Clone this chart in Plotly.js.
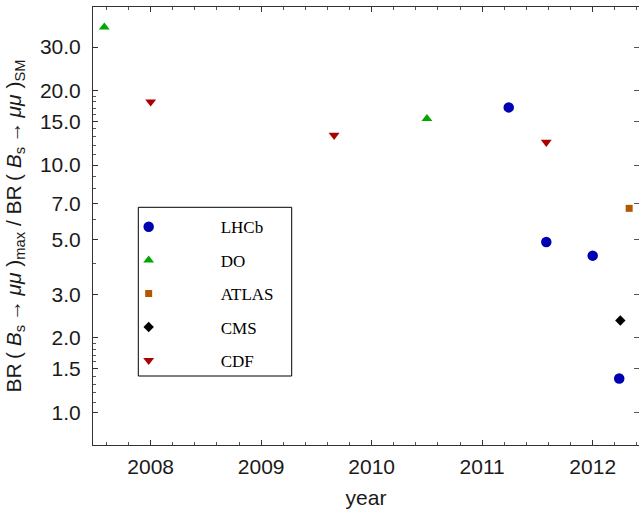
<!DOCTYPE html>
<html>
<head>
<meta charset="utf-8">
<script src="https://cdn.plot.ly/plotly-3.0.1.min.js"></script>
<style>html,body{margin:0;padding:0;background:#fff;}#chart{width:639px;height:509px;}</style>
</head>
<body>
<div id="chart"></div>
<script>
// Data
var lhcbYears = [2011.24, 2011.58, 2012.0, 2012.24];
var lhcbRatio = [17.1, 4.88, 4.30, 1.37];
var d0Years = [2007.58, 2010.5];
var d0Ratio = [36.1, 15.4];
var atlasYears = [2012.33];
var atlasRatio = [6.68];
var cmsYears = [2012.25];
var cmsRatio = [2.35];
var cdfYears = [2008.0, 2009.66, 2011.58];
var cdfRatio = [18.0, 13.2, 12.37];

var yearTicks = [2008, 2009, 2010, 2011, 2012];
var ratioTicks = [1, 1.5, 2, 3, 5, 7, 10, 15, 20, 30];
var ratioTickText = ['1.0', '1.5', '2.0', '3.0', '5.0', '7.0', '10.0', '15.0', '20.0', '30.0'];
var ratioMinor = [1.1, 1.2, 1.3, 1.4, 1.6, 1.7, 1.8, 1.9, 4, 6, 8, 9, 11, 12, 13, 14, 16, 17, 18, 19];

var legendFont = {family: 'Liberation Serif, serif', size: 17, color: '#000'};

function series(name, xs, ys, symbol, color, size) {
  return {
    type: 'scatter', mode: 'markers', name: name, x: xs, y: ys,
    legendgroup: name,
    marker: {symbol: symbol, color: color, size: size, line: {width: 0}},
    hoverinfo: 'x+y'
  };
}

var traces = [
  series('LHCb', lhcbYears, lhcbRatio, 'circle', 'rgb(0,0,178)', 10.5),
  series('DO', d0Years, d0Ratio, 'triangle-up', 'rgb(0,168,0)', 9.5),
  series('ATLAS', atlasYears, atlasRatio, 'square', 'rgb(178,89,0)', 7),
  series('CMS', cmsYears, cmsRatio, 'diamond', 'rgb(0,0,0)', 8),
  series('CDF', cdfYears, cdfRatio, 'triangle-down', 'rgb(170,0,0)', 9.5)
];
// right-side frame ticks (no data)
traces.push({type: 'scatter', mode: 'markers', x: [], y: [], yaxis: 'y2', showlegend: false, hoverinfo: 'skip'});

var axisFont = {family: 'Liberation Sans, Arial, sans-serif', size: 21, color: '#1a1a1a'};
var titleFont = {family: 'Liberation Sans, Arial, sans-serif', size: 21, color: '#1a1a1a'};
var lineCol = '#333333';

var layout = {
  width: 639, height: 509,
  margin: {l: 93, r: 0, t: 7, b: 64, pad: 0},
  paper_bgcolor: '#fff', plot_bgcolor: '#fff',
  showlegend: true,
  legend: {
    x: -0.0299, xanchor: 'left', y: 0.5384, yanchor: 'top',
    bgcolor: 'rgba(0,0,0,0)', borderwidth: 0,
    font: legendFont, itemwidth: 134, traceorder: 'grouped', tracegroupgap: 8.3,
    itemclick: false
  },
  shapes: [{
    type: 'rect', xref: 'paper', yref: 'paper',
    x0: (138.3 - 93) / 546, x1: (291.7 - 93) / 546,
    y0: (445 - 376) / 438, y1: (445 - 207.3) / 438,
    line: {color: '#000', width: 1}, fillcolor: 'rgba(0,0,0,0)', layer: 'above'
  }],
  xaxis: {
    type: 'linear', range: [2007.478, 2012.419],
    tickmode: 'array', tickvals: yearTicks, ticktext: yearTicks.map(String),
    ticks: 'inside', ticklen: 5, tickwidth: 1, tickcolor: lineCol,
    minor: {dtick: 0.2, tick0: 2008, ticks: 'inside', ticklen: 3, tickwidth: 1, tickcolor: '#555', showgrid: false},
    showline: true, linecolor: lineCol, linewidth: 1, mirror: 'ticks',
    showgrid: false, zeroline: false,
    tickfont: axisFont, ticklabelstandoff: 3,
    title: {text: 'year', font: axisFont, standoff: 14}
  },
  yaxis: {
    type: 'log', range: [-0.1322, 1.6389],
    tickmode: 'array', tickvals: ratioTicks, ticktext: ratioTickText,
    ticks: 'inside', ticklen: 5, tickwidth: 1, tickcolor: lineCol,
    minor: {tickmode: 'array', tickvals: ratioMinor, ticks: 'inside', ticklen: 3, tickwidth: 1, tickcolor: '#555', showgrid: false},
    showline: true, linecolor: lineCol, linewidth: 1, mirror: false,
    showgrid: false, zeroline: false,
    tickfont: axisFont, ticklabelstandoff: 7,
    title: {
      text: 'BR\u2009( <i>B</i><sub>s</sub>\u2009\u2192\u2009<i>\u03bc\u03bc</i> )<sub>max</sub> / BR\u2009( <i>B</i><sub>s</sub>\u2009\u2192\u2009<i>\u03bc\u03bc</i> )<sub>SM</sub>',
      font: titleFont, standoff: 12
    }
  },
  yaxis2: {
    type: 'log', range: [-0.1322, 1.6389], overlaying: 'y', side: 'right',
    tickmode: 'array', tickvals: ratioTicks, showticklabels: false,
    ticks: 'inside', ticklen: 5, tickwidth: 1, tickcolor: '#555',
    showline: false, showgrid: false, zeroline: false
  }
};

Plotly.newPlot('chart', traces, layout, {displayModeBar: false, staticPlot: false});
</script>
</body>
</html>
